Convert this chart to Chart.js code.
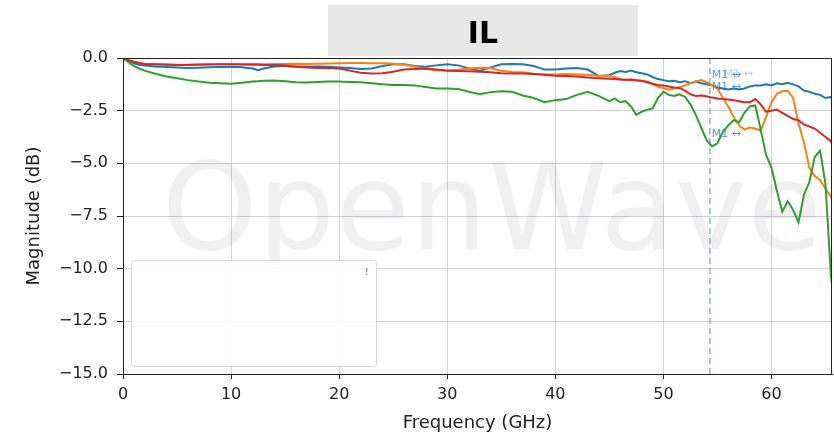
<!DOCTYPE html>
<html>
<head>
<meta charset="utf-8">
<title>IL</title>
<script src="https://cdn.jsdelivr.net/npm/chart.js@4.4.1/dist/chart.umd.min.js"></script>
<style>
  html, body { margin: 0; padding: 0; background: #fff; }
  #wrap { width: 834px; height: 440px; position: relative; }
</style>
</head>
<body>
<div id="wrap"><canvas id="il-chart"></canvas></div>
<script>
// frequency points (GHz)
var freqGHz = [0, 0.5, 1, 1.5, 2,
    3, 4, 5, 6, 7, 8, 9, 10, 11, 12,
    12.5,
    13, 14, 15, 16, 17, 18, 19, 20, 21, 22, 23, 24, 25, 26, 27, 28, 29, 30,
    31, 32, 33, 34, 35, 36, 37, 38, 39, 40, 41, 42, 43, 44, 45,
    45.5, 46, 46.5, 47, 47.5, 48, 48.5, 49, 49.5, 50,
    50.5, 51, 51.5, 52, 52.5, 53, 53.5, 54, 54.5, 55,
    55.5, 56, 56.5, 57, 57.5, 58, 58.5, 59, 59.5, 60,
    60.5, 61, 61.5, 62, 62.5, 63, 63.5, 64, 64.5, 65,
    65.5, 65.6];

var blueDb = [0, -0.12, -0.25, -0.32, -0.36,
    -0.4, -0.43, -0.45, -0.47, -0.46, -0.44, -0.43, -0.42, -0.44, -0.5,
    -0.58,
    -0.5, -0.4, -0.38, -0.4, -0.42, -0.4, -0.42, -0.45, -0.48, -0.52, -0.5, -0.38, -0.3, -0.3, -0.38, -0.42, -0.35, -0.3,
    -0.35, -0.5, -0.6, -0.45, -0.3, -0.28, -0.3, -0.38, -0.55, -0.55, -0.5, -0.48, -0.55, -0.85, -0.82,
    -0.7, -0.62, -0.66, -0.6, -0.68, -0.72, -0.78, -0.9, -1.0, -1.05,
    -1.1, -1.08, -1.15, -1.1, -1.2, -1.12, -1.2, -1.25, -1.3, -1.4,
    -1.45, -1.5, -1.45, -1.5, -1.45, -1.35, -1.3, -1.3, -1.25, -1.3,
    -1.2, -1.25, -1.18, -1.25, -1.35, -1.55, -1.6, -1.7, -1.75, -1.9,
    -1.85, -1.95];

var orangeDb = [0, -0.1, -0.18, -0.24, -0.27,
    -0.3, -0.3, -0.32, -0.32, -0.3, -0.3, -0.3, -0.3, -0.3, -0.29,
    -0.29,
    -0.3, -0.28, -0.28, -0.27, -0.28, -0.27, -0.26, -0.25, -0.24, -0.24, -0.25, -0.25, -0.27, -0.32, -0.4, -0.52, -0.58, -0.58,
    -0.56, -0.5, -0.46, -0.48, -0.6, -0.66, -0.68, -0.75, -0.78, -0.78, -0.76, -0.78, -0.8, -0.85, -0.85,
    -0.9, -1.0, -1.05, -1.05, -1.08, -1.1, -1.12, -1.25, -1.35, -1.42,
    -1.5, -1.45, -1.4, -1.3, -1.2, -1.1, -1.05, -1.15, -1.3, -1.45,
    -1.9, -2.3, -2.8, -3.2, -3.4, -3.3, -3.35, -3.45, -2.8, -2.1,
    -1.7, -1.58, -1.55, -1.9, -3.1, -4.0, -5.2, -5.6, -5.8, -6.2,
    -6.6, -6.7];

var greenDb = [0, -0.2, -0.38, -0.5, -0.6,
    -0.75, -0.88, -0.96, -1.05, -1.12, -1.17, -1.2, -1.22, -1.18, -1.12,
    -1.1,
    -1.08, -1.07, -1.1, -1.15, -1.16, -1.14, -1.12, -1.12, -1.14, -1.15, -1.2, -1.25, -1.28, -1.28, -1.3, -1.38, -1.45, -1.45,
    -1.47, -1.6, -1.72, -1.62, -1.58, -1.6, -1.78, -1.9, -2.1, -2.0, -1.95, -1.75, -1.6, -1.8, -2.05,
    -1.92, -2.1, -2.05, -2.3, -2.7, -2.55, -2.45, -2.4, -1.9, -1.6,
    -1.75, -1.8, -1.72, -1.85, -2.2, -2.7, -3.3, -3.9, -4.2, -4.05,
    -3.5, -3.2, -2.95, -3.05, -2.6, -2.3, -2.25, -3.4, -4.6, -5.2,
    -6.3, -7.3, -6.8, -7.2, -7.8, -6.5, -5.9, -4.7, -4.4, -6.0,
    -10.3, -10.8];

var redDb = [0, -0.1, -0.18, -0.24, -0.28,
    -0.3, -0.32, -0.33, -0.33, -0.32, -0.31, -0.3, -0.3, -0.31, -0.32,
    -0.32,
    -0.33, -0.33, -0.36, -0.42, -0.45, -0.47, -0.46, -0.5, -0.6, -0.7, -0.74, -0.72, -0.65, -0.55, -0.52, -0.5, -0.55, -0.6,
    -0.62, -0.63, -0.65, -0.68, -0.72, -0.74, -0.74, -0.76, -0.8, -0.84, -0.86, -0.88, -0.93, -0.96, -0.98,
    -1.0, -1.02, -1.03, -1.02, -1.05, -1.08, -1.15, -1.22, -1.28, -1.3,
    -1.35, -1.4, -1.42, -1.55, -1.72, -1.8, -1.78, -1.82, -1.88, -1.92,
    -1.95, -1.97, -2.0, -2.05, -2.1, -2.1, -1.95, -2.2, -2.55, -2.5,
    -2.45, -2.6, -2.75, -2.9, -2.95, -3.15, -3.25, -3.35, -3.55, -3.75,
    -3.95, -4.1];

var xTicks = [0, 10, 20, 30, 40, 50, 60];
var yTicks = [0, -2.5, -5, -7.5, -10, -12.5, -15];
var markerFreq = 54.3;
var markerLabel = 'M1 \u2194';

function points(values) {
    return freqGHz.map(function (f, i) { return { x: f, y: values[i] }; });
}

function valueAt(values, f) {
    for (var i = 1; i < freqGHz.length; i++) {
        if (freqGHz[i] >= f) {
            var t = (f - freqGHz[i - 1]) / (freqGHz[i] - freqGHz[i - 1]);
            return values[i - 1] + t * (values[i] - values[i - 1]);
        }
    }
    return values[values.length - 1];
}

Chart.defaults.font.family = "'DejaVu Sans', sans-serif";
Chart.defaults.color = '#222';

// watermark, marker, empty legend, frame and title box
var decorPlugin = {
    id: 'decor',
    beforeDatasetsDraw: function (chart) {
        var ctx = chart.ctx;
        ctx.save();
        ctx.font = "122px 'DejaVu Sans'";
        ctx.fillStyle = 'rgba(0,0,0,0.06)';
        ctx.textAlign = 'center';
        ctx.textBaseline = 'alphabetic';
        ctx.fillText('OpenWave', 492, 249);
        ctx.restore();
    },
    afterDatasetsDraw: function (chart) {
        var ctx = chart.ctx;
        var area = chart.chartArea;
        var xs = chart.scales.x, ys = chart.scales.y;
        var mx = xs.getPixelForValue(markerFreq);

        ctx.save();
        ctx.strokeStyle = 'rgba(31,119,180,0.55)';
        ctx.lineWidth = 1.5;
        ctx.setLineDash([6, 4]);
        ctx.beginPath();
        ctx.moveTo(mx, area.top);
        ctx.lineTo(mx, area.bottom);
        ctx.stroke();
        ctx.setLineDash([]);

        ctx.font = "11px 'DejaVu Sans'";
        ctx.textBaseline = 'middle';
        ctx.textAlign = 'left';
        var labels = [
            { v: valueAt(blueDb, markerFreq), dx: 2, a: 0.75 },
            { v: valueAt(orangeDb, markerFreq), dx: 14, a: 0.35 },
            { v: valueAt(redDb, markerFreq), dx: 2, a: 0.75 },
            { v: valueAt(greenDb, markerFreq), dx: 2, a: 0.75 }
        ];
        labels.forEach(function (l) {
            ctx.fillStyle = 'rgba(31,119,180,' + l.a + ')';
            ctx.fillText(markerLabel, mx + l.dx, ys.getPixelForValue(l.v) - 10);
        });

        // empty legend box
        ctx.fillStyle = 'rgba(255,255,255,0.9)';
        ctx.strokeStyle = '#d6d6d6';
        ctx.lineWidth = 1;
        ctx.beginPath();
        ctx.roundRect(131.5, 260.5, 245, 106, 3);
        ctx.fill();
        ctx.stroke();
        ctx.fillStyle = '#555';
        ctx.font = "9px 'DejaVu Sans'";
        ctx.fillText('!', 365, 273);

        // frame
        ctx.strokeStyle = '#222';
        ctx.lineWidth = 1;
        ctx.strokeRect(area.left + 0.5, area.top + 0.5, area.right - area.left - 1, area.bottom - area.top);
        ctx.restore();
    },
    afterDraw: function (chart) {
        var ctx = chart.ctx;
        ctx.save();
        ctx.fillStyle = '#e8e8e8';
        ctx.fillRect(328, 5, 310, 51);
        ctx.fillStyle = '#000';
        ctx.font = "bold 30px 'DejaVu Sans'";
        ctx.textAlign = 'center';
        ctx.textBaseline = 'alphabetic';
        ctx.fillText('IL', 483, 43);
        ctx.restore();
    }
};

var ctx = document.getElementById('il-chart').getContext('2d');
window.ilChart = new Chart(ctx, {
    type: 'line',
    data: {
        datasets: [{
            label: 'S21 A',
            data: points(blueDb),
            borderColor: '#1f77b4',
            order: 4
        }, {
            label: 'S21 B',
            data: points(orangeDb),
            borderColor: '#ff7f0e',
            order: 3
        }, {
            label: 'S21 C',
            data: points(greenDb),
            borderColor: '#2ca02c',
            order: 2
        }, {
            label: 'S21 D',
            data: points(redDb),
            borderColor: '#d62728',
            order: 1
        }]
    },
    options: {
        responsive: true,
        maintainAspectRatio: false,
        animation: false,
        elements: {
            line: { borderWidth: 2, tension: 0, fill: false },
            point: { radius: 0 }
        },
        layout: { padding: { left: 0, right: 2, top: 58, bottom: 0 } },
        plugins: {
            legend: { display: false },
            tooltip: { enabled: false }
        },
        scales: {
            x: {
                type: 'linear',
                min: 0,
                max: 65.6,
                afterFit: function (scale) { scale.height = 66; },
                afterBuildTicks: function (scale) {
                    scale.ticks = xTicks.map(function (v) { return { value: v }; });
                },
                ticks: {
                    font: { size: 16 },
                    color: '#222',
                    padding: 6,
                    maxRotation: 0,
                    callback: function (v) { return String(v); }
                },
                grid: { color: '#d0d1d8', tickColor: '#222', tickLength: 5 },
                border: { display: true, color: '#222' },
                title: {
                    display: true,
                    text: 'Frequency (GHz)',
                    font: { size: 18 },
                    color: '#222',
                    padding: { top: 0, bottom: 6 }
                }
            },
            y: {
                min: -15,
                max: 0,
                afterFit: function (scale) { scale.width = 123; },
                afterBuildTicks: function (scale) {
                    scale.ticks = yTicks.map(function (v) { return { value: v }; });
                },
                ticks: {
                    font: { size: 16 },
                    color: '#222',
                    padding: 9,
                    callback: function (v) {
                        return v < 0 ? '\u2212' + Math.abs(v).toFixed(1) : v.toFixed(1);
                    }
                },
                grid: { color: '#d0d1d8', tickColor: '#222', tickLength: 6 },
                border: { display: true, color: '#222' },
                title: {
                    display: true,
                    text: 'Magnitude (dB)',
                    font: { size: 18 },
                    color: '#222',
                    padding: { top: 24, bottom: 0 }
                }
            }
        }
    },
    plugins: [decorPlugin]
});
</script>
</body>
</html>
